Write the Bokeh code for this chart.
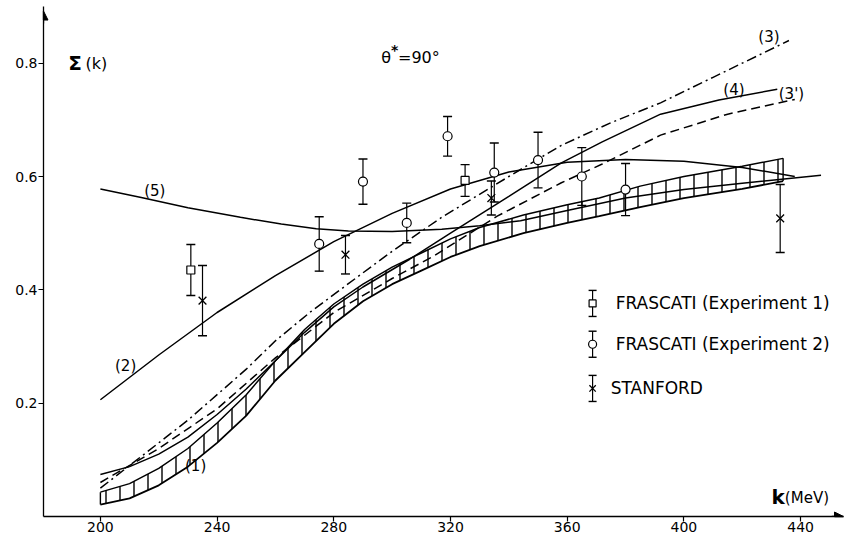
import numpy as np
from bokeh.plotting import figure
from bokeh.models import (Label, Whisker, ColumnDataSource, Arrow, NormalHead,
                          TeeHead, FixedTicker)
from bokeh.embed import file_html
from bokeh.resources import INLINE

# ---------------- data ----------------
x_ticks = [200, 240, 280, 320, 360, 400, 440]
y_ticks = [0.2, 0.4, 0.6, 0.8]

# hatched band (1)
k_band = [200, 210, 220, 230, 240, 250, 260, 270, 280, 290, 300, 310, 320, 330,
          345, 360, 371, 385, 400, 420, 434]
band_top = [0.043, 0.058, 0.085, 0.12, 0.165, 0.215, 0.275, 0.33, 0.375, 0.41, 0.44,
            0.465, 0.49, 0.51, 0.532, 0.55, 0.562, 0.583, 0.6, 0.618, 0.632]
band_bot = [0.021, 0.032, 0.055, 0.088, 0.13, 0.178, 0.24, 0.29, 0.34, 0.38, 0.41,
            0.434, 0.458, 0.477, 0.5, 0.518, 0.53, 0.546, 0.562, 0.578, 0.592]

# curve (2)
k2 = [200, 220, 240, 260, 280, 300, 320, 340, 360, 380, 400, 420, 438]
s2 = [0.206, 0.285, 0.36, 0.425, 0.485, 0.535, 0.578, 0.608, 0.625, 0.63, 0.627, 0.616, 0.6]

# curve (3) dash-dot
k3 = [200, 210, 220, 230, 240, 250, 260, 272, 290, 300, 317, 340, 358, 375, 392, 410, 436]
s3 = [0.05, 0.09, 0.13, 0.17, 0.215, 0.26, 0.31, 0.361, 0.43, 0.468, 0.528, 0.6, 0.655,
      0.695, 0.73, 0.775, 0.84]

# curve (3') dashed
k3p = [200, 220, 240, 260, 280, 300, 314, 336, 358, 372, 392, 415, 438]
s3p = [0.06, 0.12, 0.19, 0.28, 0.36, 0.42, 0.459, 0.53, 0.589, 0.622, 0.673, 0.71, 0.736]

# curve (4) solid
k4 = [200, 210, 220, 230, 240, 250, 260, 270, 280, 290, 306, 320, 340, 358, 372, 392, 412, 432]
s4 = [0.074, 0.088, 0.11, 0.14, 0.18, 0.225, 0.275, 0.325, 0.37, 0.405, 0.454, 0.5,
      0.565, 0.624, 0.661, 0.71, 0.735, 0.754]

# curve (5) solid
k5 = [200, 214, 230, 248, 262, 274, 285, 300, 317, 330, 344, 360, 380, 400, 420, 447]
s5 = [0.578, 0.563, 0.545, 0.528, 0.516, 0.508, 0.504, 0.503, 0.507, 0.513, 0.522,
      0.54, 0.562, 0.577, 0.588, 0.602]

# experiments
exp1_k = [231, 325]
exp1_v = [0.435, 0.593]
exp1_e = [0.045, 0.028]

exp2_k = [275, 290, 305, 319, 335, 350, 365, 380]
exp2_v = [0.481, 0.591, 0.518, 0.671, 0.607, 0.629, 0.600, 0.577]
exp2_e = [0.048, 0.04, 0.035, 0.035, 0.052, 0.049, 0.051, 0.046]

stan_k = [235, 284, 334, 433]
stan_v = [0.381, 0.462, 0.562, 0.526]
stan_e = [0.062, 0.034, 0.03, 0.06]

legend_names = ["FRASCATI (Experiment 1)", "FRASCATI (Experiment 2)", "STANFORD"]

# ---------------- figure ----------------
XR = (180.5, 454.7)
YR = (0.0, 0.9)
FONT = "DejaVu Sans"

p = figure(width=845, height=538, x_range=XR, y_range=YR,
           output_backend="svg", toolbar_location=None,
           min_border_left=43, min_border_right=2, min_border_top=6, min_border_bottom=22)
p.outline_line_color = None
p.grid.visible = False
p.background_fill_color = "white"

for ax in (p.xaxis[0], p.yaxis[0]):
    ax.axis_line_width = 1.3
    ax.axis_line_color = "black"
    ax.major_tick_in = 0
    ax.major_tick_out = 5
    ax.major_tick_line_width = 1.2
    ax.minor_tick_in = 0
    ax.minor_tick_out = 0
    ax.major_label_text_font = FONT
    ax.major_label_text_font_size = "14px"
    ax.major_label_text_color = "black"
p.xaxis.ticker = FixedTicker(ticks=x_ticks)
p.yaxis.ticker = FixedTicker(ticks=y_ticks)
p.xaxis.major_label_standoff = 0
p.yaxis.major_label_standoff = 1

# axis arrows
p.add_layout(Arrow(x_start=XR[1] - 4, y_start=0, x_end=XR[1], y_end=0,
                   end=NormalHead(size=9, fill_color="black", line_color="black"),
                   line_width=1.3))
p.add_layout(Arrow(x_start=XR[0], y_start=YR[1] - 0.03, x_end=XR[0], y_end=YR[1] - 0.008,
                   end=NormalHead(size=9, fill_color="black", line_color="black"),
                   line_width=1.3))

# hatched band (1)
p.varea(x=k_band, y1=band_bot, y2=band_top, fill_alpha=0,
        hatch_pattern="vertical_line", hatch_scale=14, hatch_weight=1.4,
        hatch_color="black")
p.line(k_band, band_top, line_color="black", line_width=1.5)
p.line(k_band, band_bot, line_color="black", line_width=1.8)
p.segment(x0=[k_band[0], k_band[-1]], y0=[band_bot[0], band_bot[-1]],
          x1=[k_band[0], k_band[-1]], y1=[band_top[0], band_top[-1]],
          line_color="black", line_width=1.4)

# theory curves
p.line(k2, s2, line_color="black", line_width=1.5)
p.line(k3, s3, line_color="black", line_width=1.5, line_dash="10 4 2 4")
p.line(k3p, s3p, line_color="black", line_width=1.5, line_dash="9 5")
p.line(k4, s4, line_color="black", line_width=1.5)
p.line(k5, s5, line_color="black", line_width=1.5)

# data with error bars
def errbars(ks, vs, es):
    src = ColumnDataSource(dict(k=ks, lo=[v - e for v, e in zip(vs, es)],
                                hi=[v + e for v, e in zip(vs, es)]))
    p.add_layout(Whisker(source=src, base="k", lower="lo", upper="hi",
                         dimension="height", line_width=1.2, line_color="black",
                         upper_head=TeeHead(size=9, line_width=1.4),
                         lower_head=TeeHead(size=9, line_width=1.4)))

errbars(exp1_k, exp1_v, exp1_e)
errbars(exp2_k, exp2_v, exp2_e)
errbars(stan_k, stan_v, stan_e)
p.scatter(exp1_k, exp1_v, marker="square", size=8, fill_color="white",
          line_color="black", line_width=1.2)
p.scatter(exp2_k, exp2_v, marker="circle", size=9, fill_color="white",
          line_color="black", line_width=1.2)
p.scatter(stan_k, stan_v, marker="x", size=11, line_color="black", line_width=1.3)

# legend (hand drawn like the original)
leg_k = 368.7
leg_y = [0.376, 0.304, 0.226]
leg_e = 0.023
leg_src = ColumnDataSource(dict(k=[leg_k] * 3, lo=[y - leg_e for y in leg_y],
                                hi=[y + leg_e for y in leg_y]))
p.add_layout(Whisker(source=leg_src, base="k", lower="lo", upper="hi",
                     dimension="height", line_width=1.2, line_color="black",
                     upper_head=TeeHead(size=8, line_width=1.4),
                     lower_head=TeeHead(size=8, line_width=1.4)))
p.scatter([leg_k], [leg_y[0]], marker="square", size=7, fill_color="white",
          line_color="black", line_width=1.2)
p.scatter([leg_k], [leg_y[1]], marker="circle", size=8, fill_color="white",
          line_color="black", line_width=1.2)
p.scatter([leg_k], [leg_y[2]], marker="x", size=9, line_color="black", line_width=1.3)
for name, y, dx in zip(legend_names, leg_y, [7.9, 7.9, 6.2]):
    p.add_layout(Label(x=leg_k + dx, y=y, text=name, text_font=FONT,
                       text_font_size="17px", text_baseline="middle",
                       text_align="left", text_color="black"))

# annotations
def lab(x, y, t, size="14px", style="normal", align="left"):
    p.add_layout(Label(x=x, y=y, text=t, text_font=FONT, text_font_size=size,
                       text_font_style=style, text_baseline="middle",
                       text_align=align, text_color="black"))

lab(189.0, 0.80, "Σ", "20px", "bold")
lab(194.9, 0.80, "(k)", "16px")
lab(296.3, 0.81, "θ", "16px")
lab(299.6, 0.824, "*", "14px", "bold")
lab(302.0, 0.81, "=90°", "16px")
lab(215.0, 0.575, "(5)", "15px")
lab(205.0, 0.265, "(2)", "15px")
lab(229.0, 0.09, "(1)", "15px")
lab(425.5, 0.847, "(3)", "15px")
lab(413.5, 0.752, "(4)", "15px")
lab(432.5, 0.746, "(3')", "15px")
lab(430.0, 0.034, "k", "20px", "bold")
lab(434.6, 0.032, "(MeV)", "15px")

open("out.html", "w").write(file_html(p, INLINE))
